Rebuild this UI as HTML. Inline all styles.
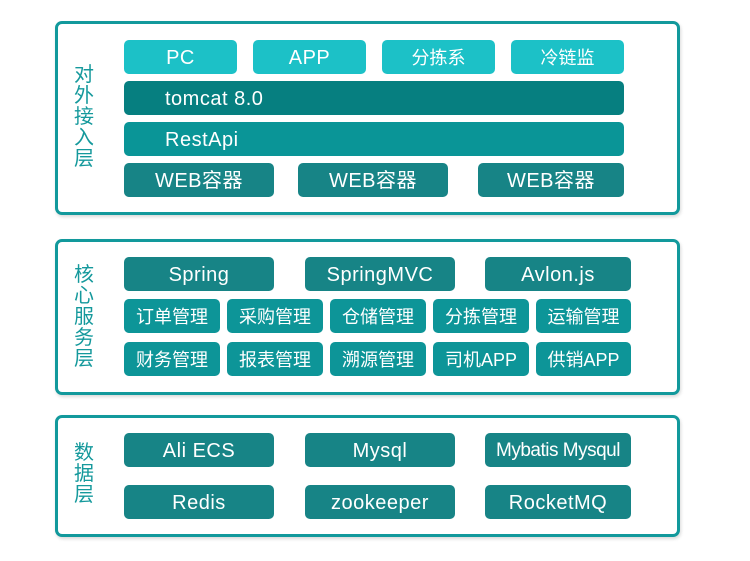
<!DOCTYPE html>
<html><head><meta charset="utf-8"><style>
body{margin:0;width:750px;height:561px;background:#fff;position:relative;overflow:hidden;font-family:"Liberation Sans","Noto Sans CJK SC",sans-serif}
.p{position:absolute;left:55px;width:619px;border:3px solid #12999c;border-radius:7px;box-shadow:1px 2px 3px rgba(0,0,0,0.15);background:#fff}
.l{position:absolute;left:73px;width:22px;font-size:20px;line-height:21px;color:#15999c;text-align:center;font-family:"Noto Sans CJK SC",sans-serif}
.b{position:absolute;height:34px;border-radius:5px;color:#fff;font-size:20px;line-height:36px;text-align:center;letter-spacing:0.5px;white-space:nowrap;font-family:"Liberation Sans","Noto Sans CJK SC",sans-serif}
.c1{background:#1cc1c7}.c2{background:#067f80}.c3{background:#0a9597}.c4{background:#178486}.c5{background:#0d9598}
.s{font-size:18px;letter-spacing:0}
</style></head><body>
<div class="p" style="top:21px;height:188px"></div>
<div class="p" style="top:239px;height:150px"></div>
<div class="p" style="top:415px;height:116px"></div>
<div class="l" style="top:62px">对<br>外<br>接<br>入<br>层</div>
<div class="l" style="top:262px">核<br>心<br>服<br>务<br>层</div>
<div class="l" style="top:440px">数<br>据<br>层</div>

<div class="b c1" style="left:124px;top:40px;width:113px">PC</div>
<div class="b c1" style="left:253px;top:40px;width:113px">APP</div>
<div class="b c1 s" style="left:382px;top:40px;width:113px">分拣系</div>
<div class="b c1 s" style="left:511px;top:40px;width:113px">冷链监</div>
<div class="b c2" style="left:124px;top:81px;width:500px;text-align:left;padding-left:41px;box-sizing:border-box">tomcat 8.0</div>
<div class="b c3" style="left:124px;top:122px;width:500px;text-align:left;padding-left:41px;box-sizing:border-box">RestApi</div>
<div class="b c4" style="left:124px;top:163px;width:150px">WEB容器</div>
<div class="b c4" style="left:298px;top:163px;width:150px">WEB容器</div>
<div class="b c4" style="left:478px;top:163px;width:146px">WEB容器</div>

<div class="b c4" style="left:124px;top:257px;width:150px">Spring</div>
<div class="b c4" style="left:305px;top:257px;width:150px">SpringMVC</div>
<div class="b c4" style="left:485px;top:257px;width:146px">Avlon.js</div>
<div class="b c5 s" style="left:124px;top:299px;width:96px">订单管理</div>
<div class="b c5 s" style="left:227px;top:299px;width:96px">采购管理</div>
<div class="b c5 s" style="left:330px;top:299px;width:96px">仓储管理</div>
<div class="b c5 s" style="left:433px;top:299px;width:96px">分拣管理</div>
<div class="b c5 s" style="left:536px;top:299px;width:95px">运输管理</div>
<div class="b c5 s" style="left:124px;top:342px;width:96px">财务管理</div>
<div class="b c5 s" style="left:227px;top:342px;width:96px">报表管理</div>
<div class="b c5 s" style="left:330px;top:342px;width:96px">溯源管理</div>
<div class="b c5 s" style="left:433px;top:342px;width:96px">司机APP</div>
<div class="b c5 s" style="left:536px;top:342px;width:95px">供销APP</div>

<div class="b c4" style="left:124px;top:433px;width:150px">Ali ECS</div>
<div class="b c4" style="left:305px;top:433px;width:150px">Mysql</div>
<div class="b c4" style="left:485px;top:433px;width:146px;letter-spacing:-0.5px;font-size:19px">Mybatis Mysqul</div>
<div class="b c4" style="left:124px;top:485px;width:150px">Redis</div>
<div class="b c4" style="left:305px;top:485px;width:150px">zookeeper</div>
<div class="b c4" style="left:485px;top:485px;width:146px">RocketMQ</div>
</body></html>
